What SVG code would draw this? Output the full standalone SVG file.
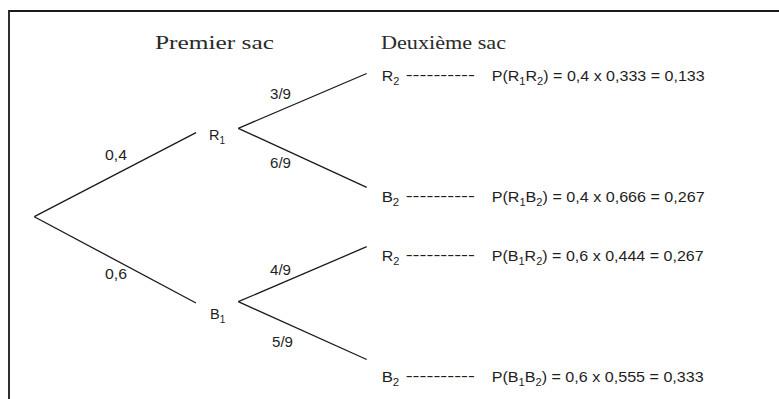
<svg xmlns="http://www.w3.org/2000/svg" width="779" height="399" viewBox="0 0 779 399">
<style>
.s{font-family:"Liberation Sans",Arial,sans-serif;font-size:14.5px;fill:#1e1e1e}
.sub{font-size:10px}
.h{font-family:"Liberation Serif","Times New Roman",serif;font-size:18px;fill:#2a2a2a}
.c{stroke:#1a1a1a;stroke-width:1.3;fill:none}
.f{stroke:#1a1a1a;stroke-width:1.8;fill:none}
</style>
<rect width="779" height="399" fill="#fff"/>
<g id="frame"><path class="f" d="M9 399V11H779"/></g>
<g id="headers">
<text class="h" x="155" y="49" textLength="119" lengthAdjust="spacingAndGlyphs">Premier sac</text>
<text class="h" x="381" y="49" textLength="125" lengthAdjust="spacingAndGlyphs">Deuxième sac</text>
</g>
<g id="connectors">
<line class="c" x1="34.3" y1="216.7" x2="196" y2="132.7"/>
<line class="c" x1="34.3" y1="216.7" x2="196" y2="303"/>
<line class="c" x1="238.3" y1="128.3" x2="366.7" y2="73.5"/>
<line class="c" x1="238.3" y1="128.3" x2="366.7" y2="187.3"/>
<line class="c" x1="238.3" y1="301.7" x2="366.7" y2="246.7"/>
<line class="c" x1="238.3" y1="301.7" x2="366.7" y2="359.5"/>
<text class="s" x="105" y="160" textLength="22" lengthAdjust="spacingAndGlyphs">0,4</text>
<text class="s" x="105" y="279" textLength="22" lengthAdjust="spacingAndGlyphs">0,6</text>
<text class="s" x="270" y="99" textLength="21" lengthAdjust="spacingAndGlyphs">3/9</text>
<text class="s" x="270" y="168" textLength="21" lengthAdjust="spacingAndGlyphs">6/9</text>
<text class="s" x="270" y="275" textLength="21" lengthAdjust="spacingAndGlyphs">4/9</text>
<text class="s" x="272" y="347" textLength="21" lengthAdjust="spacingAndGlyphs">5/9</text>
</g>
<g id="R1"><text class="s" x="209" y="140">R<tspan class="sub" dy="4">1</tspan></text></g>
<g id="B1"><text class="s" x="210" y="319">B<tspan class="sub" dy="4">1</tspan></text></g>
<g id="R1R2">
<text class="s" x="381.7" y="80.7" textLength="17.6" lengthAdjust="spacingAndGlyphs">R<tspan class="sub" dy="4">2</tspan></text>
<text class="s" x="405.7" y="80" textLength="69.3" lengthAdjust="spacingAndGlyphs">----------</text>
<text class="s" x="491.7" y="80.7" textLength="213" lengthAdjust="spacingAndGlyphs">P(R<tspan class="sub" dy="4">1</tspan><tspan dy="-4">R</tspan><tspan class="sub" dy="4">2</tspan><tspan dy="-4">) = 0,4 x 0,333 = 0,133</tspan></text>
</g>
<g id="R1B2">
<text class="s" x="381.7" y="201.7" textLength="17.6" lengthAdjust="spacingAndGlyphs">B<tspan class="sub" dy="4">2</tspan></text>
<text class="s" x="405.7" y="201" textLength="69.3" lengthAdjust="spacingAndGlyphs">----------</text>
<text class="s" x="491.7" y="201.7" textLength="213" lengthAdjust="spacingAndGlyphs">P(R<tspan class="sub" dy="4">1</tspan><tspan dy="-4">B</tspan><tspan class="sub" dy="4">2</tspan><tspan dy="-4">) = 0,4 x 0,666 = 0,267</tspan></text>
</g>
<g id="B1R2">
<text class="s" x="381.7" y="260.7" textLength="17.6" lengthAdjust="spacingAndGlyphs">R<tspan class="sub" dy="4">2</tspan></text>
<text class="s" x="405.7" y="260" textLength="69.3" lengthAdjust="spacingAndGlyphs">----------</text>
<text class="s" x="491.7" y="260.7" textLength="212" lengthAdjust="spacingAndGlyphs">P(B<tspan class="sub" dy="4">1</tspan><tspan dy="-4">R</tspan><tspan class="sub" dy="4">2</tspan><tspan dy="-4">) = 0,6 x 0,444 = 0,267</tspan></text>
</g>
<g id="B1B2">
<text class="s" x="381.7" y="381.7" textLength="17.6" lengthAdjust="spacingAndGlyphs">B<tspan class="sub" dy="4">2</tspan></text>
<text class="s" x="405.7" y="381" textLength="69.3" lengthAdjust="spacingAndGlyphs">----------</text>
<text class="s" x="491.7" y="381.7" textLength="212" lengthAdjust="spacingAndGlyphs">P(B<tspan class="sub" dy="4">1</tspan><tspan dy="-4">B</tspan><tspan class="sub" dy="4">2</tspan><tspan dy="-4">) = 0,6 x 0,555 = 0,333</tspan></text>
</g>
</svg>
